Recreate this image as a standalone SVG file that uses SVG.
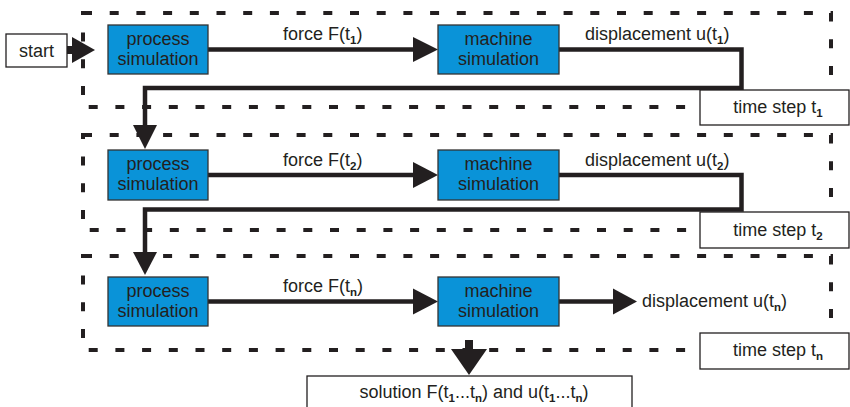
<svg xmlns="http://www.w3.org/2000/svg" width="850" height="407" viewBox="0 0 850 407">
<defs>
<style>
text{font-family:"Liberation Sans",Arial,sans-serif;font-size:18px;fill:#231f20}
.sub{font-size:11.5px;font-weight:bold}
.dash{fill:none;stroke:#231f20;stroke-width:4;stroke-dasharray:9 17.7}
.blue{fill:#0a93d8;stroke:#333;stroke-width:1.3}
.wbox{fill:#fff;stroke:#231f20;stroke-width:1.3}
.line{fill:none;stroke:#231f20;stroke-width:4.5}
.head{fill:#231f20}
</style>
</defs>
<rect width="850" height="407" fill="#fff"/>
<g id="frames">
<rect class="dash" x="83" y="13" width="748" height="94"/>
<rect class="dash" x="83" y="135" width="748" height="95"/>
<rect class="dash" x="83" y="256" width="748" height="94"/>
</g>
<g id="connectors">
<path class="line" d="M67 50H76" style="stroke-width:8"/>
<polygon class="head" points="72,37 95,50 72,63"/>
<path class="line" d="M208 49.5H416"/>
<polygon class="head" points="413,37 438,49.5 413,62"/>
<path class="line" d="M559 49.5H741.5V88H145V128"/>
<polygon class="head" points="133,125 157,125 145,149"/>
<path class="line" d="M208 175H416"/>
<polygon class="head" points="413,162 438,175 413,188"/>
<path class="line" d="M559 175H741.5V209.5H145V255"/>
<polygon class="head" points="133,252 157,252 145,275"/>
<path class="line" d="M208 301.5H416"/>
<polygon class="head" points="413,288.5 438,301.5 413,314.5"/>
<path class="line" d="M559 301.5H616"/>
<polygon class="head" points="613,288.5 637,301.5 613,314.5"/>
<path class="line" d="M469 340V352" style="stroke-width:8"/>
<polygon class="head" points="451,349 487,349 469,375"/>
</g>
<g id="start">
<rect class="wbox" x="6" y="34" width="61" height="33"/>
<text x="36.5" y="57" text-anchor="middle">start</text>
</g>
<g id="process1">
<rect class="blue" x="108" y="25" width="100" height="49"/>
<text x="158" y="45" text-anchor="middle">process</text>
<text x="158" y="65" text-anchor="middle">simulation</text>
</g>
<g id="machine1">
<rect class="blue" x="438" y="25" width="121" height="49"/>
<text x="498.5" y="45" text-anchor="middle">machine</text>
<text x="498.5" y="65" text-anchor="middle">simulation</text>
</g>
<g id="process2">
<rect class="blue" x="108" y="150" width="100" height="50"/>
<text x="158" y="170" text-anchor="middle">process</text>
<text x="158" y="190" text-anchor="middle">simulation</text>
</g>
<g id="machine2">
<rect class="blue" x="438" y="150" width="121" height="50"/>
<text x="498.5" y="170" text-anchor="middle">machine</text>
<text x="498.5" y="190" text-anchor="middle">simulation</text>
</g>
<g id="process3">
<rect class="blue" x="108" y="277" width="100" height="49"/>
<text x="158" y="297" text-anchor="middle">process</text>
<text x="158" y="317" text-anchor="middle">simulation</text>
</g>
<g id="machine3">
<rect class="blue" x="438" y="277" width="121" height="49"/>
<text x="498.5" y="297" text-anchor="middle">machine</text>
<text x="498.5" y="317" text-anchor="middle">simulation</text>
</g>
<g id="labels">
<text x="283" y="40">force F(t<tspan class="sub" dy="4">1</tspan><tspan dy="-4">)</tspan></text>
<text x="585" y="40">displacement u(t<tspan class="sub" dy="4">1</tspan><tspan dy="-4">)</tspan></text>
<text x="283" y="166">force F(t<tspan class="sub" dy="4">2</tspan><tspan dy="-4">)</tspan></text>
<text x="585" y="166">displacement u(t<tspan class="sub" dy="4">2</tspan><tspan dy="-4">)</tspan></text>
<text x="283" y="292">force F(t<tspan class="sub" dy="4">n</tspan><tspan dy="-4">)</tspan></text>
<text x="642" y="307">displacement u(t<tspan class="sub" dy="4">n</tspan><tspan dy="-4">)</tspan></text>
</g>
<g id="timestep1">
<rect class="wbox" x="700" y="90" width="149" height="35"/>
<text x="778" y="113" text-anchor="middle">time step t<tspan class="sub" dy="4">1</tspan></text>
</g>
<g id="timestep2">
<rect class="wbox" x="700" y="212" width="149" height="36"/>
<text x="778" y="236" text-anchor="middle">time step t<tspan class="sub" dy="4">2</tspan></text>
</g>
<g id="timestepn">
<rect class="wbox" x="700" y="333" width="149" height="36"/>
<text x="778" y="356" text-anchor="middle">time step t<tspan class="sub" dy="4">n</tspan></text>
</g>
<g id="solution">
<rect class="wbox" x="307" y="376" width="325" height="40"/>
<text x="474" y="398" text-anchor="middle">solution F(t<tspan class="sub" dy="4">1</tspan><tspan dy="-4">...t</tspan><tspan class="sub" dy="4">n</tspan><tspan dy="-4">) and u(t</tspan><tspan class="sub" dy="4">1</tspan><tspan dy="-4">...t</tspan><tspan class="sub" dy="4">n</tspan><tspan dy="-4">)</tspan></text>
</g>
</svg>
